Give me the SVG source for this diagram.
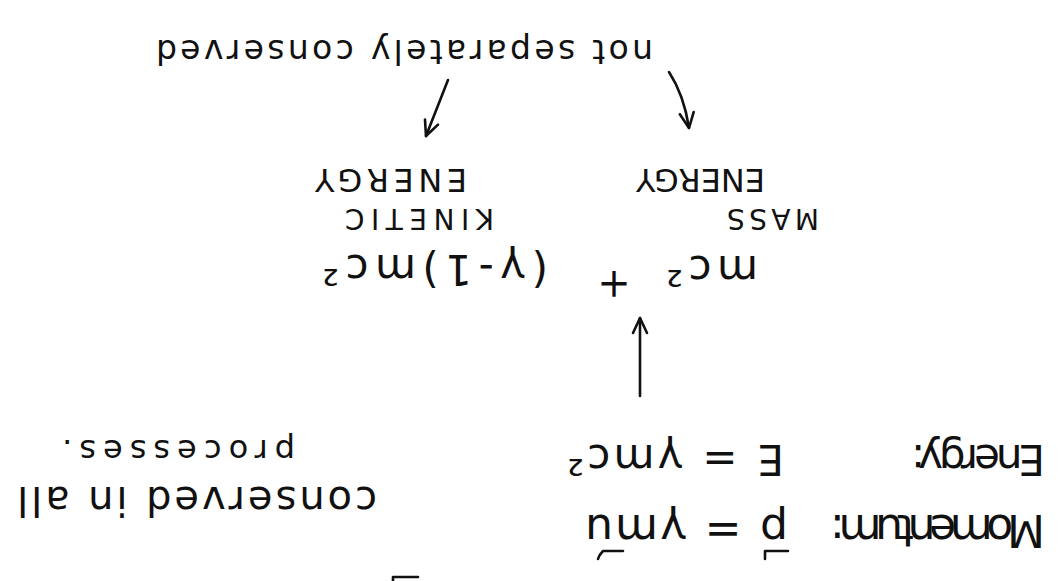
<svg xmlns="http://www.w3.org/2000/svg" width="1061" height="581" viewBox="0 0 1061 581">
<style>
  .t { font-family: "DejaVu Sans", "Liberation Sans", sans-serif; fill: #111; }
  .ln { fill: none; stroke: #111; stroke-width: 2.6; stroke-linecap: round; stroke-linejoin: round; }
</style>
<defs>
  <marker id="ah" viewBox="0 0 20 20" refX="18" refY="10" markerWidth="20" markerHeight="20" markerUnits="userSpaceOnUse" orient="auto">
    <path d="M3,3 L18,10 L3,17" fill="none" stroke="#111" stroke-width="2.6" stroke-linecap="round" stroke-linejoin="round"/>
  </marker>
</defs>
<rect width="1061" height="581" fill="#ffffff"/>
<g transform="rotate(180 530.5 290.5)">
  <g id="not-separately-conserved">
    <text class="t" x="408" y="541" font-size="33" textLength="497" lengthAdjust="spacing">not separately conserved</text>
  </g>
  <g id="kinetic-energy-label">
    <text class="t" x="567" y="372" font-size="28" textLength="149" lengthAdjust="spacing">KINETIC</text>
    <text class="t" x="594" y="412" font-size="32" textLength="152" lengthAdjust="spacing">ENERGY</text>
  </g>
  <g id="mass-energy-label">
    <text class="t" x="242" y="372" font-size="28" textLength="92" lengthAdjust="spacing">MASS</text>
    <text class="t" x="296" y="412" font-size="32" textLength="129" lengthAdjust="spacing">ENERGY</text>
  </g>
  <g id="mass-term">
    <text class="t" x="303" y="325" font-size="42" textLength="92" lengthAdjust="spacing">mc²</text>
  </g>
  <g id="plus">
    <text class="t" x="447" y="310" font-size="40" text-anchor="middle">+</text>
  </g>
  <g id="kinetic-term">
    <text class="t" x="513" y="326" font-size="42" textLength="226" lengthAdjust="spacing">(γ-1)mc²</text>
  </g>
  <g id="momentum">
    <text class="t" x="16" y="66" font-size="44" textLength="215" lengthAdjust="spacing">Momentum:</text>
    <text class="t" x="273" y="66" font-size="44" textLength="203" lengthAdjust="spacing">p = γmu</text>
    <path class="ln" d="M273,30 L296,30 L296,22"/>
    <path class="ln" d="M438,30 L458,30 Q462,26 463,22"/>
  </g>
  <g id="energy">
    <text class="t" x="16" y="136" font-size="42" textLength="134" lengthAdjust="spacing">Energy:</text>
    <text class="t" x="277" y="136" font-size="42" textLength="217" lengthAdjust="spacing">E = γmc²</text>
  </g>
  <g id="conserved-in-all-processes">
    <text class="t" x="684" y="94" font-size="40" textLength="360" lengthAdjust="spacing">conserved in all</text>
    <text class="t" x="766" y="141" font-size="32" textLength="233" lengthAdjust="spacing">processes.</text>
  </g>
</g>
<g id="connectors">
  <path class="ln" d="M448,80 L426,136" marker-end="url(#ah)"/>
  <path class="ln" d="M669,72 Q684,95 689,128" marker-end="url(#ah)"/>
  <path class="ln" d="M640,396 L640,318" marker-end="url(#ah)"/>
</g>
<g id="fragment">
  <path class="ln" d="M393,581 L393,577 L418,577" stroke-width="3.5"/>
</g>
</svg>
